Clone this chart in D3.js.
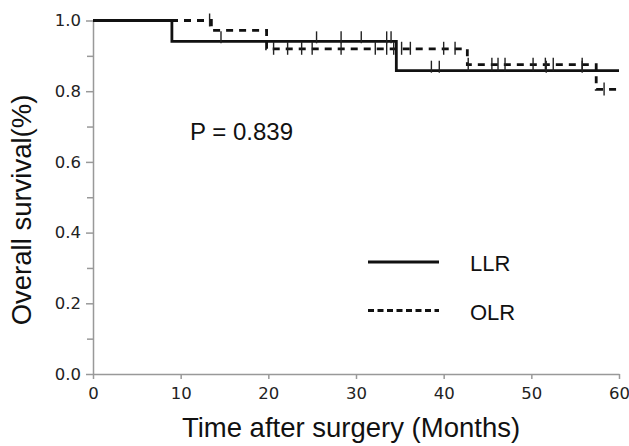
<!DOCTYPE html>
<html>
<head>
<meta charset="utf-8">
<script src="https://cdn.jsdelivr.net/npm/d3@7"></script>
<style>
  body { margin: 0; background: #fff; }
  svg { display: block; }
</style>
</head>
<body>
<div id="chart"></div>
<script>
// Kaplan-Meier Stufen (Monate, Überleben)
const llrTimes = [0, 9.0, 34.6];
const llrSurv = [1.0, 0.941, 0.858];
const olrTimes = [0, 13.5, 19.8, 42.7, 57.4];
const olrSurv = [1.0, 0.972, 0.920, 0.875, 0.805];

// zensierte Fälle
const llrCensor = [14.6, 25.5, 28.3, 30.6, 33.5, 34.0, 38.6, 39.5, 51.7, 55.8];
const olrCensor = [13.3, 20.6, 22.2, 23.8, 25.0, 28.3, 32.2, 33.5, 34.3, 35.2, 36.2, 40.0, 41.3, 42.8,
                   45.5, 46.2, 47.0, 50.2, 51.6, 52.5, 55.8, 58.3];

const maxTime = 60;
const xTicks = [0, 10, 20, 30, 40, 50, 60];
const yTicks = [0, 0.2, 0.4, 0.6, 0.8, 1.0];
const yMinorTicks = [0.1, 0.3, 0.5, 0.7, 0.9];

const width = 629, height = 446;

const svg = d3.select("#chart").append("svg")
    .attr("width", width)
    .attr("height", height);

const x = d3.scaleLinear().domain([0, maxTime]).range([93, 619]);
const y = d3.scaleLinear().domain([0, 1]).range([374, 20.5]);

// Achsen
const axisColor = "#999";
const xAxis = svg.append("g")
    .attr("transform", `translate(0,${y(0)})`)
    .call(d3.axisBottom(x).tickValues(xTicks).tickFormat(d3.format("d")).tickSize(5).tickSizeOuter(0));
const yAxis = svg.append("g")
    .attr("transform", `translate(${x(0)},0)`)
    .call(d3.axisLeft(y).tickValues(yTicks).tickFormat(d3.format(".1f")).tickSize(7).tickSizeOuter(0));

svg.append("g")
    .attr("transform", `translate(${x(0)},0)`)
    .call(d3.axisLeft(y).tickValues(yMinorTicks).tickFormat("").tickSize(6).tickSizeOuter(0))
    .select(".domain").remove();

svg.selectAll(".domain, .tick line")
    .attr("stroke", axisColor)
    .attr("stroke-width", 1.5);

svg.selectAll(".tick text")
    .attr("font-family", "DejaVu Sans, sans-serif")
    .attr("font-size", "16.5px")
    .attr("fill", "#222");
xAxis.selectAll(".tick text").attr("dy", "1.0em");
yAxis.selectAll(".tick text").attr("dx", "-2px");

// Stufenfunktion
function stepValue(times, surv, t) {
    let v = surv[0];
    for (let i = 0; i < times.length; i++) if (t >= times[i]) v = surv[i];
    return v;
}

function stepData(times, surv) {
    const pts = times.map((t, i) => [t, surv[i]]);
    pts.push([maxTime, surv[surv.length - 1]]);
    return pts;
}

const line = d3.line()
    .x(d => x(d[0]))
    .y(d => y(d[1]))
    .curve(d3.curveStepAfter);

svg.append("path")
    .datum(stepData(olrTimes, olrSurv))
    .attr("fill", "none")
    .attr("stroke", "#111")
    .attr("stroke-width", 2.8)
    .attr("stroke-dasharray", "7,6")
    .attr("d", line);

svg.append("path")
    .datum(stepData(llrTimes, llrSurv))
    .attr("fill", "none")
    .attr("stroke", "#111")
    .attr("stroke-width", 2.8)
    .attr("d", line);

// Zensurmarken
svg.append("g").selectAll("line")
    .data(llrCensor)
    .enter().append("line")
    .attr("x1", d => x(d)).attr("x2", d => x(d))
    .attr("y1", d => y(stepValue(llrTimes, llrSurv, d)) - 10)
    .attr("y2", d => y(stepValue(llrTimes, llrSurv, d)) + 2)
    .attr("stroke", "#222")
    .attr("stroke-width", 1.4);

svg.append("g").selectAll("line")
    .data(olrCensor)
    .enter().append("line")
    .attr("x1", d => x(d)).attr("x2", d => x(d))
    .attr("y1", d => y(stepValue(olrTimes, olrSurv, d)) - 7)
    .attr("y2", d => y(stepValue(olrTimes, olrSurv, d)) + 6)
    .attr("stroke", "#222")
    .attr("stroke-width", 1.4);

// P-Wert
svg.append("text")
    .attr("x", 190)
    .attr("y", 140)
    .attr("font-family", "Liberation Sans, Arial, sans-serif")
    .attr("font-size", "24px")
    .attr("fill", "#111")
    .text("P = 0.839");

// Legende
const legend = svg.append("g");
legend.append("line")
    .attr("x1", 368).attr("x2", 439).attr("y1", 262).attr("y2", 262)
    .attr("stroke", "#111").attr("stroke-width", 2.8);
legend.append("line")
    .attr("x1", 368).attr("x2", 439).attr("y1", 310.5).attr("y2", 310.5)
    .attr("stroke", "#111").attr("stroke-width", 2.8)
    .attr("stroke-dasharray", "6,3.5");
legend.append("text")
    .attr("x", 470).attr("y", 271)
    .attr("font-family", "Liberation Sans, Arial, sans-serif")
    .attr("font-size", "22px").attr("fill", "#111")
    .text("LLR");
legend.append("text")
    .attr("x", 470).attr("y", 319.5)
    .attr("font-family", "Liberation Sans, Arial, sans-serif")
    .attr("font-size", "22px").attr("fill", "#111")
    .text("OLR");

// Achsentitel
svg.append("text")
    .attr("x", 351)
    .attr("y", 437)
    .attr("text-anchor", "middle")
    .attr("font-family", "Liberation Sans, Arial, sans-serif")
    .attr("font-size", "27.5px")
    .attr("fill", "#111")
    .text("Time after surgery (Months)");

svg.append("text")
    .attr("transform", `translate(31,${(85 + 335) / 2}) rotate(-90)`)
    .attr("text-anchor", "middle")
    .attr("font-family", "Liberation Sans, Arial, sans-serif")
    .attr("font-size", "27.5px")
    .attr("fill", "#111")
    .text("Overall survival(%)");
</script>
</body>
</html>
